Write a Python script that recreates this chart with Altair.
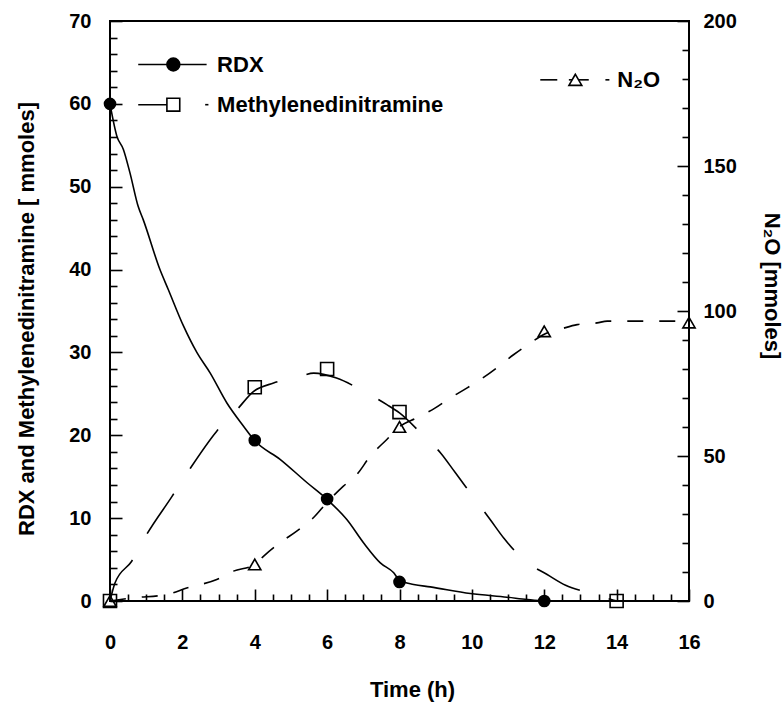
import altair as alt
import pandas as pd

# ---------------- data ----------------
rdx_t = [0, 4, 6, 8, 12]
rdx_v = [60, 19.4, 12.3, 2.3, 0]
mdn_t = [0, 4, 6, 8, 14]
mdn_v = [0, 25.8, 28.0, 22.8, 0]
n2o_t = [0, 4, 8, 12, 16]
n2o_v = [0, 12.6, 60, 93, 96]

rdx_curve_t = [0, 0.19, 0.37, 0.55, 0.78, 0.92, 1.38, 1.61, 2.03, 2.40, 2.77, 3.23, 3.69, 4.01,
               4.70, 5.44, 5.99, 6.55, 7.01, 7.47, 7.84, 8.0, 8.39, 8.85, 9.96, 10.97, 11.53, 12.0]
rdx_curve_v = [60, 56.1, 54.5, 51.7, 47.6, 46.0, 40.0, 37.6, 33.2, 30.0, 27.5, 23.9, 21.1, 19.3,
               17.1, 14.3, 12.3, 9.8, 7.0, 4.6, 3.4, 2.5, 2.0, 1.7, 0.9, 0.46, 0.18, 0]
mdn_curve_t = [0, 0.14, 0.6, 1.01, 1.71, 2.17, 2.95, 3.51, 3.97, 4.52, 5.26, 5.63, 6.26, 7.01,
               7.65, 8.0, 8.67, 9.13, 9.54, 10.05, 10.51, 10.88, 11.48, 12.08, 12.59, 13.23, 13.92, 14.0]
mdn_curve_v = [0, 2.2, 4.8, 8.0, 12.6, 15.7, 20.5, 23.1, 25.3, 26.3, 27.1, 27.5, 26.9, 25.3,
               23.7, 22.7, 19.9, 17.9, 15.5, 12.5, 9.8, 7.6, 4.8, 3.2, 1.9, 1.0, 0.1, 0]
n2o_curve_t = [0, 0.64, 1.57, 2.12, 2.95, 3.41, 4.0, 4.24, 4.70, 5.16, 5.62, 5.99, 6.45, 6.82,
               7.19, 7.65, 8.0, 8.48, 8.99, 9.36, 9.87, 10.24, 10.75, 11.16, 11.62, 12.0, 12.49,
               12.91, 13.46, 13.74, 14.47, 15.30, 16.0]
n2o_curve_v = [0, 1.1, 2.2, 4.5, 7.4, 10.3, 12.6, 15.4, 20.1, 24.1, 28.7, 33.9, 39.6, 43.6,
               49.9, 55.7, 60.1, 63.2, 66.6, 69.7, 73.5, 76.4, 81.0, 85.0, 89.0, 92.0, 93.9,
               95.3, 95.9, 96.5, 96.5, 96.5, 96.5]

x_labels = [0, 2, 4, 6, 8, 10, 12, 14, 16]
x_minor = [0.5, 1, 1.5, 2.5, 3, 3.5, 4.5, 5, 5.5, 6.5, 7, 7.5, 8.5, 9, 9.5, 10.5, 11, 11.5,
           12.5, 13, 13.5, 14.5, 15, 15.5]
left_labels = [0, 10, 20, 30, 40, 50, 60, 70]
left_minor = [2, 4, 6, 8, 12, 14, 16, 18, 22, 24, 26, 28, 32, 34, 36, 38, 42, 44, 46, 48,
              52, 54, 56, 58, 62, 64, 66, 68]
right_labels = [0, 50, 100, 150, 200]
right_minor = [10, 20, 30, 40, 60, 70, 80, 90, 110, 120, 130, 140, 160, 170, 180, 190]

leg_names = ["RDX", "Methylenedinitramine", "N\u2082O"]
leg_text_x = [2.96, 2.96, 14.02]
leg_y = [64.75, 59.9, 62.9]
leg_sym_x = [1.75, 1.75, 12.86]
leg_seg_x = [0.78, 0.78, 2.63, 11.89, 12.68, 13.69]
leg_seg_x2 = [2.67, 1.75, 2.72, 12.36, 13.23, 13.80]
leg_seg_y = [64.75, 59.9, 59.9, 62.9, 62.9, 62.9]

# ---------------- chart ----------------
W, H = 579, 580
FONT = "Liberation Sans"
LW = 1.6
MAJ, MIN = 12, 7   # tick lengths (px), ticks point into the plot

common = dict(domain=False, grid=False, tickColor="black", tickWidth=1.6, labelFlush=False)

# major axes are shifted inside by the tick length so that ticks point inward
x_major = alt.Axis(values=x_labels, format="d", orient="bottom", title="Time (h)",
                   offset=-MAJ, tickSize=MAJ, labelPadding=31, labelFontSize=20,
                   titleFontSize=22, titleX=302, titleY=95 + MAJ, titleBaseline="alphabetic",
                   **common)
x_minor_ax = alt.Axis(values=x_minor, orient="bottom", title="", labels=False,
                      offset=-MIN, tickSize=MIN, **common)
l_major = alt.Axis(values=left_labels, format="d", orient="left",
                   title="RDX and Methylenedinitramine [ mmoles]",
                   offset=-MAJ, tickSize=MAJ, labelPadding=19, labelFontSize=20,
                   titleFontSize=22, titleX=-77 - MAJ, titleY=297.5, titleBaseline="alphabetic",
                   titleAngle=270, **common)
l_minor_ax = alt.Axis(values=left_minor, orient="left", title="", labels=False,
                      offset=-MIN, tickSize=MIN, **common)
r_major = alt.Axis(values=right_labels, format="d", orient="right", title="N\u2082O [mmoles]",
                   offset=-MAJ, tickSize=MAJ, labelPadding=14, labelFontSize=20,
                   titleFontSize=22, titleX=75 + MAJ, titleY=264.5, titleBaseline="alphabetic",
                   titleAngle=90, **common)
r_minor_ax = alt.Axis(values=right_minor, orient="right", title="", labels=False,
                      offset=-MIN, tickSize=MIN, **common)


def X(f, axis=None):
    return alt.X(f"{f}:Q", scale=alt.Scale(domain=[0, 16], nice=False, zero=False), axis=axis)


def YL(f, axis=None):
    return alt.Y(f"{f}:Q", scale=alt.Scale(domain=[0, 70], nice=False), axis=axis)


def YR(f, axis=None):
    return alt.Y(f"{f}:Q", scale=alt.Scale(domain=[0, 200], nice=False), axis=axis)


rdx_curve = pd.DataFrame({"t": rdx_curve_t, "v": rdx_curve_v})
mdn_curve = pd.DataFrame({"t": mdn_curve_t, "v": mdn_curve_v})
n2o_curve = pd.DataFrame({"t": n2o_curve_t, "v": n2o_curve_v})
rdx_pts = pd.DataFrame({"t": rdx_t, "v": rdx_v})
mdn_pts = pd.DataFrame({"t": mdn_t, "v": mdn_v})
n2o_pts = pd.DataFrame({"t": n2o_t, "v": n2o_v})

rdx_line = alt.Chart(rdx_curve).mark_line(color="black", strokeWidth=LW, interpolate="monotone").encode(
    x=X("t", x_major), y=YL("v", l_major))
mdn_line = alt.Chart(mdn_curve).mark_line(color="black", strokeWidth=LW, strokeDash=[48, 30],
                                          interpolate="monotone").encode(
    x=X("t", x_minor_ax), y=YL("v", l_minor_ax))
n2o_line = alt.Chart(n2o_curve).mark_line(color="black", strokeWidth=LW, strokeDash=[16, 16],
                                          interpolate="monotone").encode(
    x=X("t"), y=YR("v", r_major))
n2o_mark = alt.Chart(n2o_pts).mark_point(shape="triangle-up", filled=False, color="black", size=150,
                                         strokeWidth=1.6, opacity=1).encode(
    x=X("t"), y=YR("v", r_minor_ax))
rdx_mark = alt.Chart(rdx_pts).mark_point(shape="circle", filled=True, color="black", size=160,
                                         opacity=1).encode(x=X("t"), y=YL("v"))
mdn_mark = alt.Chart(mdn_pts).mark_point(shape="square", filled=False, color="black", size=170,
                                         strokeWidth=1.6, opacity=1).encode(x=X("t"), y=YL("v"))

# legend
leg_seg = alt.Chart(pd.DataFrame({"x": leg_seg_x, "x2": leg_seg_x2, "y": leg_seg_y})).mark_rule(
    color="black", strokeWidth=LW).encode(x=X("x"), x2="x2:Q", y=YL("y"))
leg_df = pd.DataFrame({"name": leg_names, "tx": leg_text_x, "sx": leg_sym_x, "y": leg_y,
                       "shape": ["circle", "square", "triangle-up"],
                       "fill": ["black", "white", "white"]})
leg_sym = alt.Chart(leg_df).mark_point(color="black", strokeWidth=1.6, size=165, opacity=1).encode(
    x=X("sx"), y=YL("y"),
    shape=alt.Shape("shape:N", scale=None, legend=None),
    fill=alt.Fill("fill:N", scale=None, legend=None))
leg_txt = alt.Chart(leg_df).mark_text(align="left", baseline="middle", font=FONT, fontSize=22,
                                      fontWeight="bold", color="black").encode(
    x=X("tx"), y=YL("y"), text="name:N")

chart = alt.layer(
    rdx_line, mdn_line, n2o_line, n2o_mark, rdx_mark, mdn_mark, leg_seg, leg_sym, leg_txt,
).resolve_scale(x="independent", y="independent").properties(
    width=W, height=H,
    autosize=alt.AutoSizeParams(type="none"),
    padding={"left": 110, "top": 21, "right": 95, "bottom": 101},
    background="white",
).configure_view(stroke="black", strokeWidth=2).configure_axis(
    labelFont=FONT, titleFont=FONT, labelFontWeight="bold", titleFontWeight="bold",
    labelColor="black", titleColor="black")

chart.save("out.html", embed_options={"renderer": "svg", "actions": False})
